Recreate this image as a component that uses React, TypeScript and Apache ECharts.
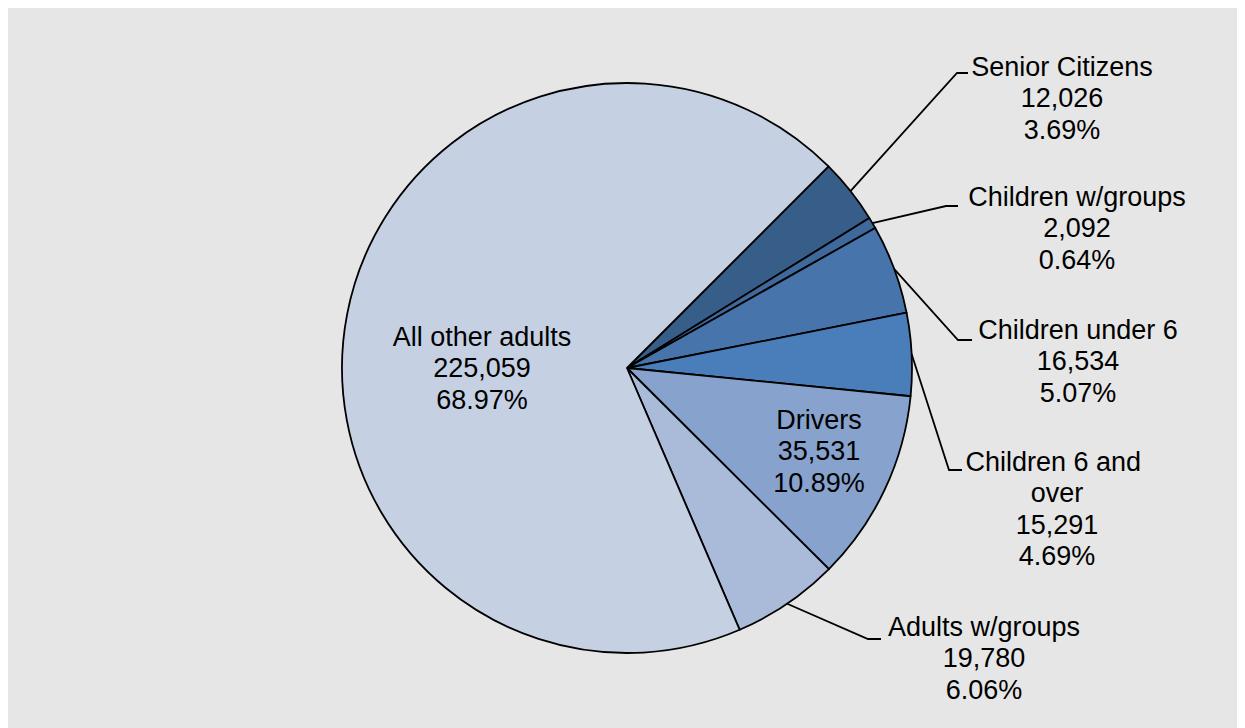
import React, { useEffect, useRef } from 'react';
import * as echarts from 'echarts';

const CATEGORIES = [
  'Senior Citizens',
  'Children w/groups',
  'Children under 6',
  'Children 6 and over',
  'Drivers',
  'Adults w/groups',
  'All other adults',
];
const VALUES = [12026, 2092, 16534, 15291, 35531, 19780, 225059];
const COLORS = ['#375d89', '#3f699d', '#4674ab', '#4a7ebb', '#87a2cd', '#aabad9', '#c5d0e3'];

// Label placement (chart px): text centre x, text top y, leader-line bend and end.
const LABEL_LAYOUT: any[] = [
  { x: 1054, top: 43, bend: [949, 65], end: [960, 65] },
  { x: 1069, top: 173, bend: [938, 198], end: [950, 198] },
  { x: 1070, top: 306, bend: [950, 332], end: [964, 332] },
  { x: 1049, top: 438, bend: [941, 462], end: [954, 462], width: 190 },
  { x: 811, top: 396, inside: true },
  { x: 976, top: 603, bend: [860, 631], end: [873, 631] },
  { x: 474, top: 313, inside: true },
];

const CENTER = [619, 360];
const RADIUS = 285;
const START_ANGLE = 45;
const FONT = '"Liberation Sans", Arial, sans-serif';

function fmt(n: number) {
  return n.toLocaleString('en-US');
}

export default function App() {
  const ref = useRef<HTMLDivElement>(null);
  useEffect(() => {
    if (!ref.current) return;
    const chart = echarts.init(ref.current, null, { renderer: 'svg' });
    const total = VALUES.reduce((a, b) => a + b, 0);
    const data = CATEGORIES.map((name, i) => {
      const spec = LABEL_LAYOUT[i];
      const item: any = { name, value: VALUES[i], itemStyle: { color: COLORS[i] } };
      if (spec.inside) {
        item.label = { position: 'inside' };
        item.labelLine = { show: false };
      } else {
        item.label = { position: 'outside' };
        if (spec.width) {
          item.label.width = spec.width;
          item.label.overflow = 'break';
        }
      }
      return item;
    });
    const cum: number[] = [];
    let acc = 0;
    VALUES.forEach((v) => {
      cum.push(acc + v / 2);
      acc += v;
    });
    chart.setOption({
      animation: false,
      backgroundColor: '#e6e6e6',
      series: [
        {
          type: 'pie',
          center: CENTER,
          radius: RADIUS,
          startAngle: START_ANGLE,
          clockwise: true,
          avoidLabelOverlap: false,
          silent: true,
          emphasis: { disabled: true },
          itemStyle: { borderColor: '#000', borderWidth: 1.8 },
          label: {
            show: true,
            color: '#000',
            fontFamily: FONT,
            fontSize: 27,
            lineHeight: 31.5,
            align: 'center',
            textBorderWidth: 0,
            formatter: (p: any) => `${p.name}\n${fmt(p.value)}\n${(p.value / total * 100).toFixed(2)}%`,
          },
          labelLine: {
            show: true,
            length: 20,
            length2: 10,
            lineStyle: { color: '#000', width: 1.8 },
          },
          labelLayout: (params: any) => {
            const spec = LABEL_LAYOUT[params.dataIndex];
            const out: any = { x: spec.x, y: spec.top, align: 'center', verticalAlign: 'top' };
            if (!spec.inside) {
              let p0 = params.labelLinePoints && params.labelLinePoints[0];
              if (!p0) {
                const ang = ((90 - START_ANGLE) + (cum[params.dataIndex] / total) * 360) * Math.PI / 180;
                p0 = [CENTER[0] + RADIUS * Math.sin(ang), CENTER[1] - RADIUS * Math.cos(ang)];
              }
              out.labelLinePoints = [p0, spec.bend, spec.end];
            }
            return out;
          },
          data,
        },
      ],
    });
    return () => chart.dispose();
  }, []);
  return (
    <div
      style={{
        marginLeft: -2,
        marginTop: -2,
        width: 1237,
        height: 720,
        borderLeft: '2px solid #8a8a8a',
        borderTop: '2px solid #8a8a8a',
        overflow: 'hidden',
      }}
    >
      <div ref={ref} style={{ width: 1237, height: 720 }} />
    </div>
  );
}
